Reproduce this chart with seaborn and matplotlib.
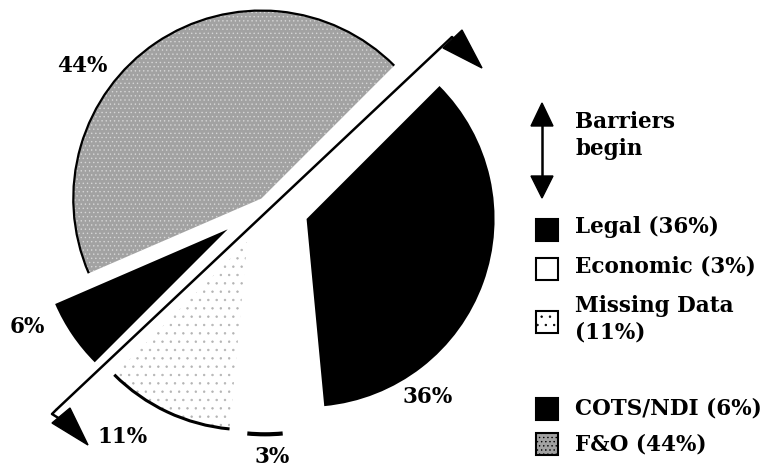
import numpy as np
import pandas as pd
import matplotlib
matplotlib.use('Agg')
import matplotlib.pyplot as plt
import seaborn as sns
from matplotlib.patches import Arc, Rectangle, Polygon

# ---- data ----
categories = ['Legal', 'Economic', 'Missing Data', 'COTS/NDI', 'F&O']
shares = [36, 3, 11, 6, 44]
legend_labels = ['Legal (36%)', 'Economic (3%)', 'Missing Data\n(11%)', 'COTS/NDI (6%)', 'F&O (44%)']
pct_labels = ['36%', '3%', '11%', '6%', '44%']
arrow_label = 'Barriers\nbegin'

sns.set_theme(style='white')
plt.rcParams['font.family'] = ['DejaVu Serif']
plt.rcParams['font.weight'] = 'bold'
plt.rcParams['text.color'] = 'black'
plt.rcParams['hatch.linewidth'] = 0.5

W, H = 766, 470
fig = plt.figure(figsize=(W / 100, H / 100), dpi=100)
ax = fig.add_axes([0, 0, 1, 1])

def Y(y):
    return H - y

faces = ['black', 'white', 'white', 'black', '#a2a2a2']
hatches = [None, None, '..', None, '....']
hatch_cols = ['black', 'white', '#b4b4b4', 'black', '#d6d6d6']
explode_frac = [0.235, 0.225, 0.222, 0.24, 0.035]
cx, cy, R = 265, Y(204), 188

wedges, _ = ax.pie(shares, explode=[e * R for e in explode_frac], startangle=45,
                   counterclock=False, center=(cx, cy), radius=R,
                   wedgeprops=dict(linewidth=0))
for w, fc, h, hc in zip(wedges, faces, hatches, hatch_cols):
    w.set_facecolor(fc)
    w.set_edgecolor(hc)
    w.set_linewidth(0)
    if h:
        w.set_hatch(h)

# outer arcs
arc_lw = {1: 3.0, 2: 2.2, 4: 1.6}
for i, lw in arc_lw.items():
    w = wedges[i]
    ax.add_patch(Arc(w.center, 2 * w.r, 2 * w.r, theta1=w.theta1, theta2=w.theta2,
                     lw=lw, color='black', zorder=3))

ax.set_xlim(0, W)
ax.set_ylim(0, H)
ax.set_aspect('equal')
ax.axis('off')

# diagonal arrow
ax.plot([56, 452], [Y(410), Y(37)], color='black', lw=1.8, solid_capstyle='butt', zorder=4)
ax.plot([452, 458], [Y(37), Y(43)], color='black', lw=1.8, zorder=4)
ax.plot([56, 52, 60], [Y(410), Y(414), Y(419)], color='black', lw=1.8, zorder=4)
ax.add_patch(Polygon([(443, Y(48)), (462, Y(30)), (482, Y(68))], closed=True,
                     facecolor='black', edgecolor='black', zorder=4))
ax.add_patch(Polygon([(52, Y(423)), (70, Y(408)), (88, Y(445))], closed=True,
                     facecolor='black', edgecolor='black', zorder=4))

# percentage labels
pct_pos = {'36%': (402, 403), '3%': (255, 463), '11%': (97, 443), '6%': (10, 333), '44%': (57, 72)}
for lab in pct_labels:
    x, y = pct_pos[lab]
    ax.text(x, Y(y), lab, fontsize=15.5, fontweight='bold', ha='left', va='baseline', color='black')

# legend: vertical arrow
ax.plot([542, 542], [Y(122), Y(180)], color='black', lw=1.8, zorder=4)
ax.add_patch(Polygon([(531, Y(126)), (553, Y(126)), (542, Y(103))], closed=True,
                     facecolor='black', edgecolor='black'))
ax.add_patch(Polygon([(531, Y(176)), (553, Y(176)), (542, Y(198))], closed=True,
                     facecolor='black', edgecolor='black'))
ax.text(575, Y(128), arrow_label.split('\n')[0], fontsize=15.5, fontweight='bold', va='baseline', color='black')
ax.text(575, Y(155), arrow_label.split('\n')[1], fontsize=15.5, fontweight='bold', va='baseline', color='black')

# legend entries
sq_y = [230, 269, 322, 409, 444]
txt_y = [[233], [272], [312, 338], [415], [450]]
for i, lab in enumerate(legend_labels):
    ax.add_patch(Rectangle((536, Y(sq_y[i] + 11)), 22, 22, facecolor=faces[i],
                           edgecolor='black', lw=1.5, hatch=hatches[i], zorder=4))
    for line, ty in zip(lab.split('\n'), txt_y[i]):
        ax.text(575, Y(ty), line, fontsize=15.5, fontweight='bold', va='baseline', color='black')

fig.savefig('out.png', dpi=100)
